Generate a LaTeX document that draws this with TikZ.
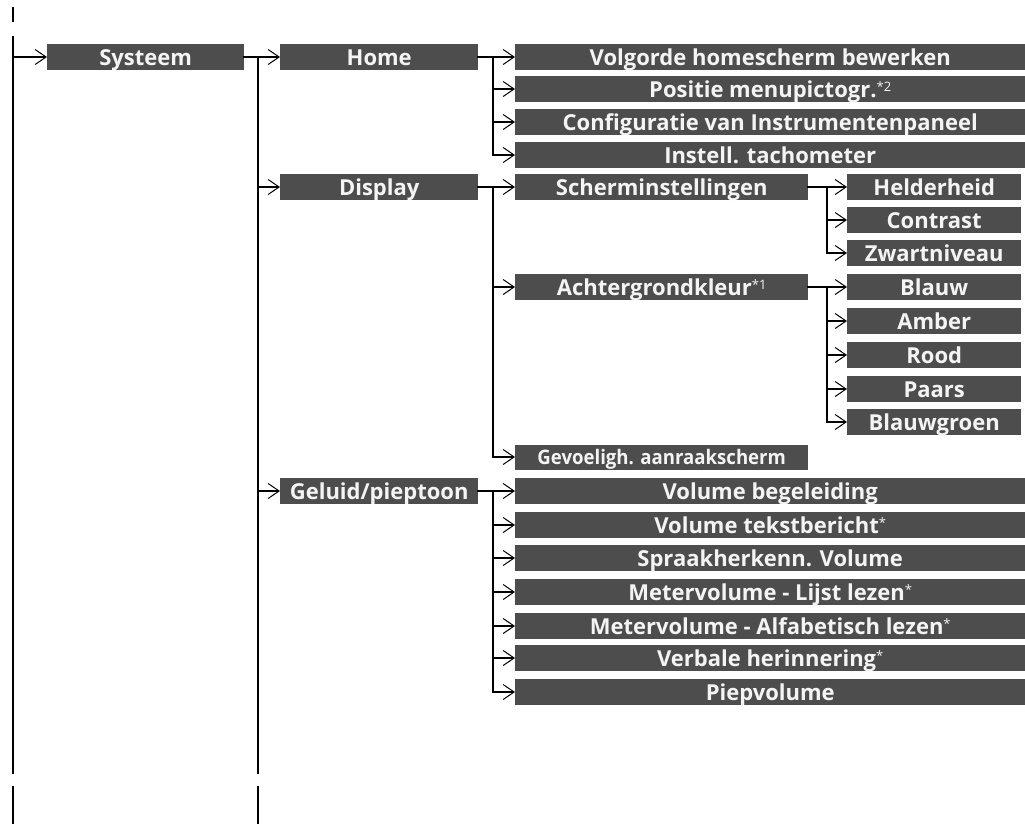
\documentclass[tikz,border=0pt]{standalone}
\usepackage{fontspec}
\setmainfont{Open Sans}
\usetikzlibrary{arrows.meta}
\definecolor{menugrey}{HTML}{4D4D4D}
\definecolor{menutext}{HTML}{F4F4F4}
\tikzset{
  menu/.style={fill=menugrey, text=menutext, font=\bfseries\fontsize{22}{24}\selectfont,
    minimum height=26pt, inner sep=0pt, text height=16pt, text depth=0pt, anchor=west},
  col1/.style={menu, minimum width=197pt},
  col2/.style={menu, minimum width=198pt},
  wide/.style={menu, minimum width=510pt},
  short/.style={menu, minimum width=293pt},
  col4/.style={menu, minimum width=174pt},
  tree/.style={line width=2pt, line cap=rect},
  branch/.style={line width=2pt, -{Straight Barb[length=11pt,width=15pt,line width=1pt]}},
}
\newcommand{\voetnoot}[1]{\raisebox{6pt}{\fontsize{13}{13}\mdseries\selectfont *#1}}
\begin{document}
\begin{tikzpicture}[x=1pt,y=-1pt]
	\useasboundingbox (0,0) rectangle (1025,823);
	%kolom 1
	\node[col1] (systeem) at (47,57) {Systeem};
	%kolom 2
	\node[col2] (home) at (280,57) {Home};
	\node[col2] (display) at (280,187) {Display};
	\node[col2] (geluid) at (280,491) {Geluid/pieptoon};
	%kolom 3
	\node[wide] (volgorde) at (515,57) {Volgorde homescherm bewerken};
	\node[wide] (positie) at (515,89) {Positie menupictogr.\voetnoot{2}};
	\node[wide] (config) at (515,122) {Configuratie van Instrumentenpaneel};
	\node[wide] (tacho) at (515,155) {Instell. tachometer};
	\node[short] (scherm) at (515,187) {Scherminstellingen};
	\node[short] (achter) at (515,287) {Achtergrondkleur\voetnoot{1}};
	\node[short, font=\bfseries\fontsize{20}{22}\selectfont, minimum height=25pt, text height=14pt] (gevoelig) at (515,457) {\scalebox{0.93}[1]{Gevoeligh. aanraakscherm}};
	\node[wide] (begeleiding) at (515,491) {Volume begeleiding};
	\node[wide] (tekst) at (515,525) {Volume tekstbericht\voetnoot{}};
	\node[wide] (spraak) at (515,558) {Spraakherkenn. Volume};
	\node[wide] (lijst) at (515,592) {Metervolume - Lijst lezen\voetnoot{}};
	\node[wide] (alfabet) at (515,626) {Metervolume - Alfabetisch lezen\voetnoot{}};
	\node[wide] (verbaal) at (515,658) {Verbale herinnering\voetnoot{}};
	\node[wide] (piep) at (515,692) {Piepvolume};
	%kolom 4
	\node[col4] (helder) at (847,187) {Helderheid};
	\node[col4] (contrast) at (847,220) {Contrast};
	\node[col4] (zwart) at (847,253) {Zwartniveau};
	\node[col4] (blauw) at (847,287) {Blauw};
	\node[col4] (amber) at (847,321) {Amber};
	\node[col4] (rood) at (847,355) {Rood};
	\node[col4] (paars) at (847,389) {Paars};
	\node[col4] (blauwgroen) at (847,422) {Blauwgroen};
	%stammen
	\coordinate (top) at (13,37);
	\coordinate (bottom) at (13,773);
	\draw[tree] (13,8) -- (13,21);
	\draw[tree] (top) -- (bottom);
	\draw[tree] (13,787) -- (13,823);
	\draw[branch] (top |- systeem.west) -- (systeem.west);
	\path (systeem.east) ++(14,0) coordinate (sysb);
	\draw[tree] (systeem.east) -- (sysb) -- (sysb |- bottom);
	\draw[tree] (sysb |- 0,787) -- (sysb |- 0,823);
	\foreach \n in {home,display,geluid}
		\draw[branch] (sysb |- \n.west) -- (\n.west);
	%takken
	\path (home.east) ++(15,0) coordinate (homeb);
	\draw[tree] (home.east) -- (homeb) -- (homeb |- tacho.west);
	\foreach \n in {volgorde,positie,config,tacho}
		\draw[branch] (homeb |- \n.west) -- (\n.west);
	\path (display.east) ++(15,0) coordinate (dispb);
	\draw[tree] (display.east) -- (dispb) -- (dispb |- gevoelig.west);
	\foreach \n in {scherm,achter,gevoelig}
		\draw[branch] (dispb |- \n.west) -- (\n.west);
	\path (geluid.east) ++(15,0) coordinate (geluidb);
	\draw[tree] (geluid.east) -- (geluidb) -- (geluidb |- piep.west);
	\foreach \n in {begeleiding,tekst,spraak,lijst,alfabet,verbaal,piep}
		\draw[branch] (geluidb |- \n.west) -- (\n.west);
	\path (scherm.east) ++(19,0) coordinate (schermb);
	\draw[tree] (scherm.east) -- (schermb) -- (schermb |- zwart.west);
	\foreach \n in {helder,contrast,zwart}
		\draw[branch] (schermb |- \n.west) -- (\n.west);
	\path (achter.east) ++(19,0) coordinate (achterb);
	\draw[tree] (achter.east) -- (achterb) -- (achterb |- blauwgroen.west);
	\foreach \n in {blauw,amber,rood,paars,blauwgroen}
		\draw[branch] (achterb |- \n.west) -- (\n.west);
\end{tikzpicture}
\end{document}
